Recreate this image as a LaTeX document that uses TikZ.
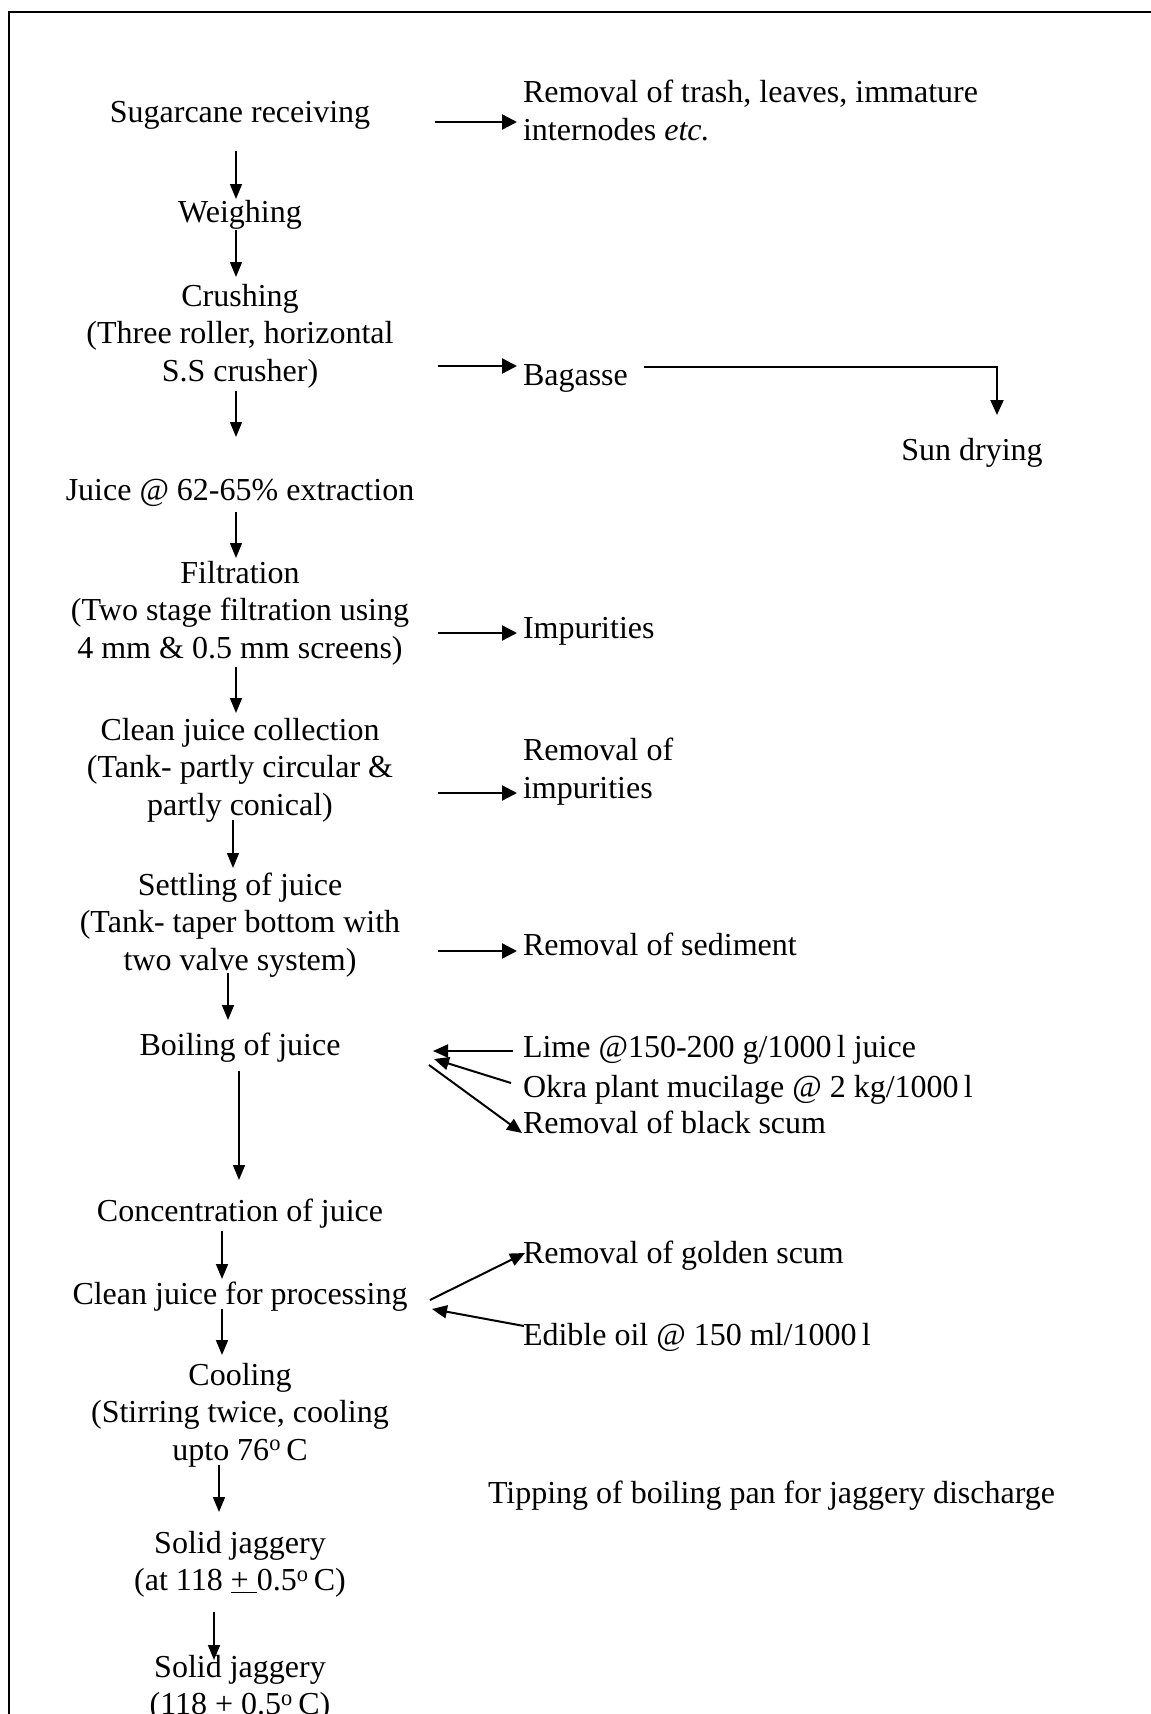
\documentclass[tikz,border=0pt]{standalone}
\usepackage{fontspec}
\setmainfont{Liberation Serif}
\usetikzlibrary{arrows.meta}
\begin{document}
\begin{tikzpicture}[x=1pt,y=-1pt,
  every node/.style={inner sep=0pt, outer sep=0pt, font=\fontsize{32}{37.5}\selectfont},
  main/.style={anchor=base, align=center},
  side/.style={anchor=base west, align=left},
  va/.style={line width=1.6pt, -{Triangle[length=15pt,width=12pt]}},
  ha/.style={line width=2.4pt, -{Triangle[length=15pt,width=15pt]}},
  da/.style={line width=2pt, -{Triangle[length=15pt,width=13pt]}},
  frame/.style={line width=2pt}
]
\useasboundingbox (0,0) rectangle (1151,1714);
\clip (0,0) rectangle (1151,1714);
\draw[frame] (9,1714) -- (9,12) -- (1151,12);

% main column (anchor base = baseline of the last line)
\node[main] (sugar) at (240,122) {Sugarcane receiving};
\node[main] (weigh) at (240,222) {Weighing};
\node[main] (crush) at (240,381) {Crushing\\(Three roller, horizontal\\S.S crusher)};
\node[main] (juice) at (240,500) {Juice @ 62-65\% extraction};
\node[main] (filt) at (240,658) {Filtration\\(Two stage filtration using\\4 mm \& 0.5 mm screens)};
\node[main] (clean) at (240,815) {Clean juice collection\\(Tank- partly circular \&\\partly conical)};
\node[main] (settle) at (240,970) {Settling of juice\\(Tank- taper bottom with\\two valve system)};
\node[main] (boil) at (240,1055) {Boiling of juice};
\node[main] (conc) at (240,1221) {Concentration of juice};
\node[main] (proc) at (240,1304) {Clean juice for processing};
\node[main] (cool) at (240,1460) {Cooling\\(Stirring twice, cooling\\upto 76\textsuperscript{o}\,C};
\node[main] (solid1) at (240,1590.5) {Solid jaggery\\(at 118 \underline{+\ }0.5\textsuperscript{o}\,C)};
\node[main] (solid2) at (240,1714.5) {Solid jaggery\\(118 + 0.5\textsuperscript{o}\,C)};

% side column
\node[side] (trash) at (523,140) {Removal of trash, leaves, immature\\internodes \textit{etc.}};
\node[side] (bag) at (523,385) {Bagasse};
\node[main] (sun) at (972,460) {Sun drying};
\node[side] (imp) at (523,638) {Impurities};
\node[side] (remimp) at (523,798) {Removal of\\impurities};
\node[side] (sed) at (523,955) {Removal of sediment};
\node[side] (lime) at (523,1057) {Lime @150-200 g/1000\,l juice};
\node[side] (okra) at (523,1097) {Okra plant mucilage @ 2 kg/1000\,l};
\node[side] (black) at (523,1133) {Removal of black scum};
\node[side] (golden) at (523,1263) {Removal of golden scum};
\node[side] (edible) at (523,1345) {Edible oil @ 150 ml/1000\,l};
\node[side] (tip) at (488,1503) {Tipping of boiling pan for jaggery discharge};

% vertical flow arrows
\draw[va] (sugar.base) ++(-4,29) -- ++(0,48);
\draw[va] (weigh.base) ++(-4,8) -- ++(0,47);
\draw[va] (crush.base) ++(-4,10) -- ++(0,46);
\draw[va] (juice.base) ++(-4,12) -- ++(0,46);
\draw[va] (filt.base) ++(-4,9) -- ++(0,46);
\draw[va] (clean.base) ++(-7,5) -- ++(0,48);
\draw[va] (settle.base) ++(-12,3) -- ++(0,47);
\draw[va] (boil.base) ++(-1,16) -- ++(0,109);
\draw[va] (conc.base) ++(-18,10) -- ++(0,48);
\draw[va] (proc.base) ++(-18,5) -- ++(0,46);
\draw[va] (cool.base) ++(-21,5) -- ++(0,47);
\draw[va] (solid1.base) ++(-26,21.5) -- ++(0,48);

% side arrows
\draw[ha] (trash.base west) ++(-88,-18) -- ++(82,0);
\draw[ha] (bag.base west) ++(-85,-19) -- ++(79,0);
\draw[ha] (imp.base west) ++(-85,-5) -- ++(79,0);
\draw[ha] (remimp.base west) ++(-85,-5) -- ++(79,0);
\draw[ha] (sed.base west) ++(-85,-4) -- ++(79,0);
\draw[da] (bag.base west) ++(121,-18) -- ++(353,0) -- ++(0,48);

\draw[da] (lime.base west) ++(-10,-6) -- ++(-80,0);
\draw[da] (okra.base west) ++(-12,-14) -- ++(-77,-24);
\draw[da] (black.base west) ++(-94,-68) -- ++(93,68);
\draw[da] (golden.base west) ++(-93,37) -- ++(95,-47);
\draw[da] (edible.base west) ++(1,-19) -- ++(-92,-17);
\end{tikzpicture}
\end{document}
